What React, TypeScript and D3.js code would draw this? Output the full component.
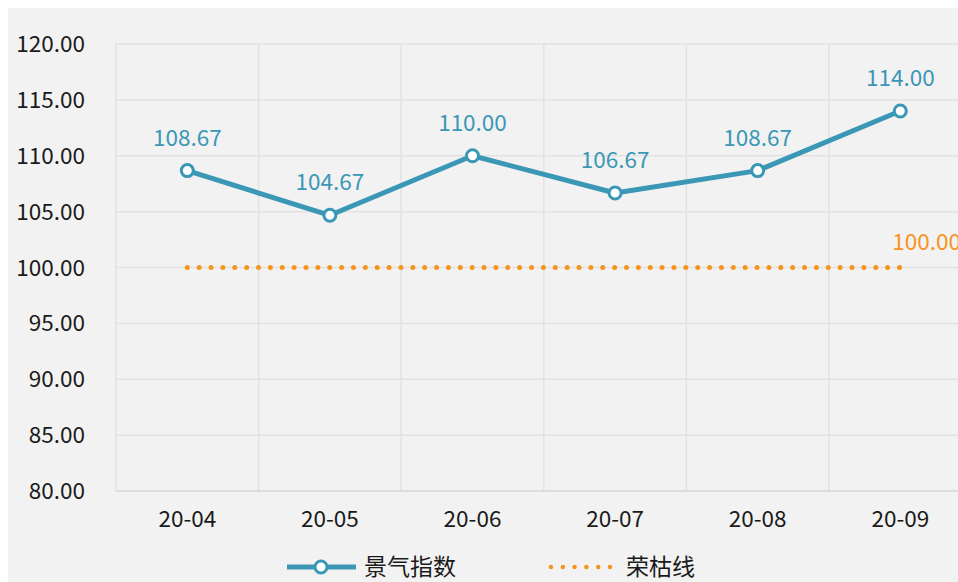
import { useRef, useEffect } from 'react';
import * as d3 from 'd3';

// 月份
const MONTHS = ['20-04', '20-05', '20-06', '20-07', '20-08', '20-09'];
// 景气指数
const INDEX_VALUES = [108.67, 104.67, 110.0, 106.67, 108.67, 114.0];
// 荣枯线
const BOOM_LINE = [100, 100, 100, 100, 100, 100];
// y 轴刻度
const Y_TICKS = [80, 85, 90, 95, 100, 105, 110, 115, 120];

const BLUE = '#3b97b6';
const ORANGE = '#f7941d';
const FONT = '"Noto Sans CJK SC", "Noto Sans", sans-serif';

export default function App() {
  const ref = useRef<SVGSVGElement>(null);

  useEffect(() => {
    if (!ref.current) return;
    const width = 958;
    const height = 582;
    const svg = d3.select(ref.current);
    svg.selectAll('*').remove();
    svg.attr('width', width).attr('height', height).style('display', 'block');

    svg.append('rect')
      .attr('x', 8).attr('y', 8)
      .attr('width', width - 8).attr('height', height - 8)
      .attr('fill', '#f2f2f2');

    const left = 116;
    const band = 142.6;
    const x = d3.scaleBand<string>()
      .domain(MONTHS)
      .range([left, left + band * MONTHS.length])
      .padding(0);
    const y = d3.scaleLinear().domain([80, 120]).range([491, 44]);
    const cx = (m: string) => (x(m) ?? 0) + x.bandwidth() / 2;

    const g = svg.append('g');

    // 横向网格
    g.selectAll('line.h')
      .data(Y_TICKS.filter((t) => t !== 80))
      .join('line')
      .attr('class', 'h')
      .attr('x1', left).attr('x2', width)
      .attr('y1', (d) => y(d)).attr('y2', (d) => y(d))
      .attr('stroke', '#e2e2e2').attr('stroke-width', 1.5);

    // 纵向网格
    g.selectAll('line.v')
      .data(MONTHS)
      .join('line')
      .attr('class', 'v')
      .attr('x1', (d) => x(d) ?? 0).attr('x2', (d) => x(d) ?? 0)
      .attr('y1', y(120)).attr('y2', y(80))
      .attr('stroke', '#e2e2e2').attr('stroke-width', 1.5);

    // x 轴线
    g.append('line')
      .attr('x1', left).attr('x2', width)
      .attr('y1', y(80)).attr('y2', y(80))
      .attr('stroke', '#d6d6d6').attr('stroke-width', 1.5);

    // y 轴标签
    g.selectAll('text.yt')
      .data(Y_TICKS)
      .join('text')
      .attr('class', 'yt')
      .attr('x', 85)
      .attr('y', (d) => y(d))
      .attr('dy', '0.36em')
      .attr('text-anchor', 'end')
      .attr('font-family', FONT)
      .attr('font-size', 22.5)
      .attr('fill', '#1a1a1a')
      .text((d) => d3.format('.2f')(d));

    // x 轴标签
    g.selectAll('text.xt')
      .data(MONTHS)
      .join('text')
      .attr('class', 'xt')
      .attr('x', (d) => cx(d))
      .attr('y', 519)
      .attr('dy', '0.36em')
      .attr('text-anchor', 'middle')
      .attr('font-family', FONT)
      .attr('font-size', 22.5)
      .attr('fill', '#1a1a1a')
      .text((d) => d);

    // 荣枯线
    const boomLine = d3.line<number>()
      .x((_, i) => cx(MONTHS[i]))
      .y((d) => y(d));
    g.append('path')
      .attr('d', boomLine(BOOM_LINE))
      .attr('fill', 'none')
      .attr('stroke', ORANGE)
      .attr('stroke-width', 5)
      .attr('stroke-linecap', 'round')
      .attr('stroke-dasharray', '0 11.87');

    g.append('text')
      .attr('x', cx(MONTHS[MONTHS.length - 1]) - 8)
      .attr('y', y(BOOM_LINE[BOOM_LINE.length - 1]) - 26)
      .attr('dy', '0.36em')
      .attr('font-family', FONT)
      .attr('font-size', 22.5)
      .attr('fill', ORANGE)
      .text(d3.format('.2f')(BOOM_LINE[BOOM_LINE.length - 1]));

    // 景气指数
    const idxLine = d3.line<number>()
      .x((_, i) => cx(MONTHS[i]))
      .y((d) => y(d));
    g.append('path')
      .attr('d', idxLine(INDEX_VALUES))
      .attr('fill', 'none')
      .attr('stroke', BLUE)
      .attr('stroke-width', 5)
      .attr('stroke-linejoin', 'round');

    g.selectAll('circle.pt')
      .data(INDEX_VALUES)
      .join('circle')
      .attr('class', 'pt')
      .attr('cx', (_, i) => cx(MONTHS[i]))
      .attr('cy', (d) => y(d))
      .attr('r', 6)
      .attr('fill', '#fff')
      .attr('stroke', BLUE)
      .attr('stroke-width', 3);

    g.selectAll('text.lbl')
      .data(INDEX_VALUES)
      .join('text')
      .attr('class', 'lbl')
      .attr('x', (_, i) => cx(MONTHS[i]))
      .attr('y', (d) => y(d) - 33)
      .attr('dy', '0.36em')
      .attr('text-anchor', 'middle')
      .attr('font-family', FONT)
      .attr('font-size', 22.5)
      .attr('fill', BLUE)
      .text((d) => d3.format('.2f')(d));

    // 图例
    const ly = 567;
    const lg = svg.append('g');
    lg.append('line')
      .attr('x1', 287).attr('x2', 356)
      .attr('y1', ly).attr('y2', ly)
      .attr('stroke', BLUE).attr('stroke-width', 5);
    lg.append('circle')
      .attr('cx', 321).attr('cy', ly).attr('r', 6)
      .attr('fill', '#fff').attr('stroke', BLUE).attr('stroke-width', 3);
    lg.append('text')
      .attr('x', 364).attr('y', ly).attr('dy', '0.36em')
      .attr('font-family', FONT).attr('font-size', 23)
      .attr('fill', '#1a1a1a')
      .text('景气指数');
    lg.append('line')
      .attr('x1', 551).attr('x2', 611.5)
      .attr('y1', ly).attr('y2', ly)
      .attr('stroke', ORANGE).attr('stroke-width', 4.5)
      .attr('stroke-linecap', 'round')
      .attr('stroke-dasharray', '0 11.8');
    lg.append('text')
      .attr('x', 626).attr('y', ly).attr('dy', '0.36em')
      .attr('font-family', FONT).attr('font-size', 23)
      .attr('fill', '#1a1a1a')
      .text('荣枯线');
  }, []);

  return (
    <div style={{ position: 'fixed', left: 0, top: 0, width: 958, height: 582, overflow: 'hidden' }}>
      <svg ref={ref}></svg>
    </div>
  );
}
